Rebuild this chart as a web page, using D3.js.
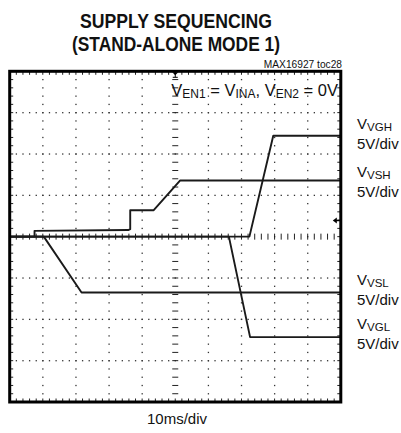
<!DOCTYPE html>
<html>
<head>
<meta charset="utf-8">
<script src="https://cdn.jsdelivr.net/npm/d3@7"></script>
<style>
  body { margin: 0; background: #fff; }
  text { font-family: "Liberation Sans", Arial, sans-serif; fill: #111; }
</style>
</head>
<body>
<div id="chart"></div>
<script>
// scope settings: 10ms/div horizontally, 5V/div vertically, 10 x 8 divisions
var timeDomain = [0, 100];   // ms
var voltDomain = [-20, 20];  // V, 0V at the centre line

// traces as [ms, V]
var vgh = [[0, 0], [72.4, 0], [79.6, 12.2], [100, 12.2]];
var vsh = [[0, 0], [7.5, 0], [7.5, 0.7], [35.8, 0.8], [36.4, 0.9], [36.4, 3.2], [43.5, 3.2], [51.5, 6.8], [100, 6.8]];
var vsl = [[0, 0], [10.3, 0], [21.7, -6.75], [100, -6.75]];
var vgl = [[0, 0], [66.2, 0], [72.6, -12.15], [100, -12.15]];

var traceNames = ["VGH", "VSH", "VSL", "VGL"];
var labelY = [129, 176.5, 285, 328.5];

var width = 401, height = 433;
var pLeft = 9.7, pRight = 340.8, pTop = 71.3, pBottom = 402;

var svg = d3.select("#chart").append("svg")
    .attr("width", width)
    .attr("height", height);

var x = d3.scaleLinear().domain(timeDomain).range([pLeft, pRight]);
var y = d3.scaleLinear().domain(voltDomain).range([pBottom, pTop]);

// minor positions (5 per division)
var tMinor = d3.range(0, 100.01, 2);
var vMinor = d3.range(-20, 20.01, 1);
var tMajor = d3.range(10, 91, 10).filter(function (d) { return d != 50; });
var vMajor = d3.range(-15, 16, 5).filter(function (d) { return d != 0; });

var grid = svg.append("g").attr("fill", "#333");

// dotted verticals
tMajor.forEach(function (t) {
    grid.selectAll(null).data(vMinor.slice(1, -1)).enter().append("rect")
        .attr("x", x(t) - 0.6).attr("y", function (v) { return y(v) - 0.6; })
        .attr("width", 1.3).attr("height", 1.3);
});
// dotted horizontals
vMajor.forEach(function (v) {
    grid.selectAll(null).data(tMinor.slice(1, -1)).enter().append("rect")
        .attr("x", function (t) { return x(t) - 0.6; }).attr("y", y(v) - 0.6)
        .attr("width", 1.3).attr("height", 1.3);
});

var ticks = svg.append("g").attr("stroke", "#222").attr("stroke-width", 1);

// centre crosshair ticks
ticks.selectAll(null).data(tMinor.slice(1, -1)).enter().append("line")
    .attr("x1", function (t) { return x(t); }).attr("x2", function (t) { return x(t); })
    .attr("y1", y(0) - 3).attr("y2", y(0) + 3);
ticks.selectAll(null).data(vMinor.slice(1, -1)).enter().append("line")
    .attr("x1", x(50) - 3).attr("x2", x(50) + 3)
    .attr("y1", function (v) { return y(v); }).attr("y2", function (v) { return y(v); });

// border ticks pointing inward
ticks.selectAll(null).data(tMinor.slice(1, -1)).enter().append("line")
    .attr("x1", function (t) { return x(t); }).attr("x2", function (t) { return x(t); })
    .attr("y1", pTop).attr("y2", pTop + 3.5);
ticks.selectAll(null).data(tMinor.slice(1, -1)).enter().append("line")
    .attr("x1", function (t) { return x(t); }).attr("x2", function (t) { return x(t); })
    .attr("y1", pBottom).attr("y2", pBottom - 3.5);
ticks.selectAll(null).data(vMinor.slice(1, -1)).enter().append("line")
    .attr("x1", pLeft).attr("x2", pLeft + 3.5)
    .attr("y1", function (v) { return y(v); }).attr("y2", function (v) { return y(v); });
ticks.selectAll(null).data(vMinor.slice(1, -1)).enter().append("line")
    .attr("x1", pRight).attr("x2", pRight - 3.5)
    .attr("y1", function (v) { return y(v); }).attr("y2", function (v) { return y(v); });

// traces
var line = d3.line()
    .x(function (d) { return x(d[0]); })
    .y(function (d) { return y(d[1]); });

svg.append("g").selectAll("path")
    .data([vgh, vsh, vsl, vgl])
    .enter().append("path")
    .attr("d", line)
    .attr("fill", "none")
    .attr("stroke", "#1a1a1a")
    .attr("stroke-width", 1.9)
    .attr("stroke-linejoin", "round");

// frame
svg.append("rect")
    .attr("x", pLeft).attr("y", pTop)
    .attr("width", pRight - pLeft).attr("height", pBottom - pTop)
    .attr("fill", "none").attr("stroke", "#000").attr("stroke-width", 3);

// trigger marker at top and ground marker on the right
var tx = x(50);
svg.append("path")
    .attr("d", "M" + (tx - 3) + "," + (pTop + 1) + "L" + (tx + 3) + "," + (pTop + 1) + "L" + tx + "," + (pTop + 4) + "Z")
    .attr("fill", "#000");
svg.append("path")
    .attr("d", "M" + tx + "," + (pTop + 3) + "V" + (pTop + 6) + "M" + (tx - 2.5) + "," + (pTop + 6) + "H" + (tx + 2.5))
    .attr("stroke", "#000").attr("stroke-width", 1);
var gy = y(1.95);
svg.append("path")
    .attr("d", "M" + (pRight - 8) + "," + gy + "L" + (pRight - 4) + "," + (gy - 3) + "L" + (pRight - 4) + "," + (gy + 3) + "Z")
    .attr("fill", "#000");
svg.append("line")
    .attr("x1", pRight - 5).attr("x2", pRight).attr("y1", gy).attr("y2", gy)
    .attr("stroke", "#000").attr("stroke-width", 1.4);

// titles
svg.append("text")
    .attr("x", 80).attr("y", 27.5)
    .attr("textLength", 192).attr("lengthAdjust", "spacingAndGlyphs")
    .style("font-size", "20px").style("font-weight", "bold")
    .text("SUPPLY SEQUENCING");
svg.append("text")
    .attr("x", 72).attr("y", 51)
    .attr("textLength", 208).attr("lengthAdjust", "spacingAndGlyphs")
    .style("font-size", "20px").style("font-weight", "bold")
    .text("(STAND-ALONE MODE 1)");
svg.append("text")
    .attr("x", 342).attr("y", 67.5)
    .attr("text-anchor", "end")
    .style("font-size", "10.2px")
    .text("MAX16927 toc28");

// condition text inside the screen
var cond = svg.append("text")
    .attr("x", 338).attr("y", 95.5)
    .attr("text-anchor", "end")
    .style("font-size", "16.5px");
[["V", ""], ["EN1", "sub"], [" = V", ""], ["INA", "sub"], [", V", ""], ["EN2", "sub"], [" = 0V", ""]]
    .forEach(function (p, i) {
        var ts = cond.append("tspan").text(p[0]);
        if (p[1] == "sub") ts.attr("dy", 2.5).style("font-size", "12px");
        else if (i > 0) ts.attr("dy", -2.5);
    });

// trace labels
traceNames.forEach(function (name, i) {
    var t = svg.append("text")
        .attr("x", 357).attr("y", labelY[i])
        .style("font-size", "15px");
    t.append("tspan").text("V");
    t.append("tspan").attr("dy", 2).style("font-size", "11.5px").text(name);
    svg.append("text")
        .attr("x", 357).attr("y", labelY[i] + 20)
        .style("font-size", "15px")
        .text("5V/div");
});

svg.append("text")
    .attr("x", 177).attr("y", 424)
    .attr("text-anchor", "middle")
    .style("font-size", "15px")
    .text("10ms/div");
</script>
</body>
</html>
